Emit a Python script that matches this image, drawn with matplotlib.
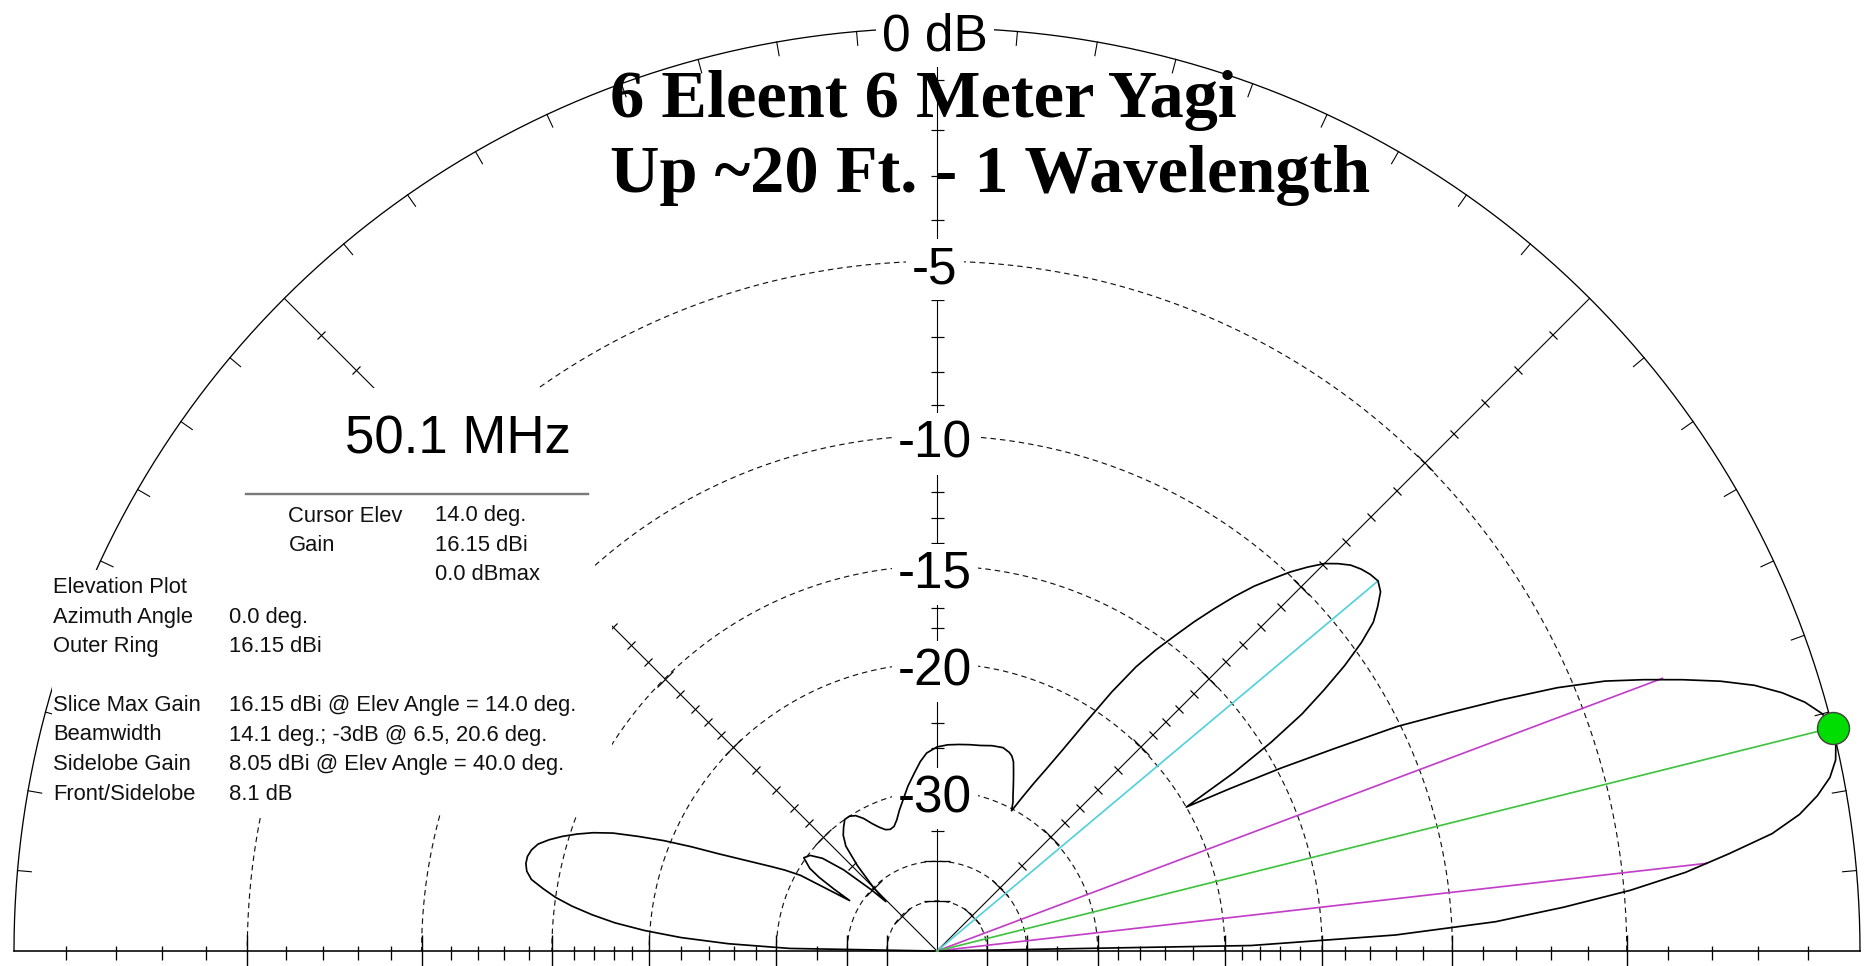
import numpy as np
import matplotlib
matplotlib.use("Agg")
import matplotlib.pyplot as plt
from matplotlib.markers import MarkerStyle
from matplotlib.patches import Rectangle
from matplotlib.lines import Line2D
from matplotlib.transforms import Affine2D, ScaledTranslation

FIG_W, FIG_H, DPI = 1864, 966, 100

# ---------------- data ----------------
# elevation pattern: elevation angle (deg) and gain relative to the maximum (dB)
elev_deg = [0, 1, 2, 3, 4, 5, 6, 7, 8, 9, 10, 11, 12, 13, 14, 15, 16, 17, 18, 19,
            20, 21, 22, 23, 24, 25, 26, 27, 28, 29, 30, 31, 32, 33, 34, 35, 36, 37,
            38, 39, 40, 41, 42, 43, 44, 45, 46, 47, 48, 49, 50, 51, 52, 53, 54, 55,
            56, 57, 58, 59, 60, 61, 62, 63, 64, 65, 66, 67, 68, 69, 70, 71, 72, 75,
            78, 81, 84, 87, 90, 93, 95, 97, 100, 103, 105, 107, 109, 111, 113, 115,
            117, 119, 121, 123, 125, 127, 129, 131, 133, 135, 136, 137, 139, 141,
            143, 145, 147, 148, 149, 150, 151, 152, 153, 154, 155, 156, 157, 158,
            159, 160, 161, 162, 163, 164, 165, 166, 167, 168, 169, 170, 171, 172,
            173, 174, 175, 176, 177, 178, 179, 180]
rel_db = [-99, -18.5, -12.0, -8.6, -6.6, -4.85, -3.5, -2.5, -1.55, -0.95, -0.55,
          -0.25, -0.08, -0.01, 0.0, -0.12, -0.38, -0.75, -1.22, -1.85, -2.6, -3.4,
          -4.25, -5.4, -6.9, -8.5, -10.1, -12.5, -14.8, -17.4, -20.0, -16.8, -14.6,
          -12.9, -11.7, -10.6, -9.7, -9.0, -8.6, -8.25, -8.1, -8.15, -8.25, -8.4,
          -8.65, -8.95, -9.4, -9.9, -10.5, -11.1, -11.85, -12.7, -13.6, -14.6,
          -15.6, -16.8, -18.6, -21.0, -23.3, -25.2, -26.8, -28.5, -30.2, -29.3,
          -28.7, -28.0, -27.3, -26.6, -25.9, -25.5, -25.3, -25.2, -25.1, -25.2,
          -25.4, -25.5, -25.6, -25.7, -25.9, -26.4, -27.1, -28.0, -29.3, -30.8,
          -31.7, -32.7, -33.4, -33.6, -33.4, -32.8, -32.0, -31.0, -30.3, -30.0,
          -30.0, -30.6, -31.3, -32.5, -35.5, -40.0, -44.0, -40.0, -34.5, -31.5,
          -30.2, -29.8, -31.0, -32.5, -35.0, -38.0, -30.5, -28.8, -27.5, -26.2,
          -24.8, -23.2, -21.3, -19.6, -18.2, -16.9, -16.0, -15.3, -14.7, -14.2,
          -13.8, -13.6, -13.5, -13.5, -13.6, -13.85, -14.4, -15.0, -15.8, -16.8,
          -18.0, -19.7, -22.0, -25.5, -31.5, -99]

cursor_elev = 14.0          # deg
max_gain_dbi = 16.15        # dBi (outer ring)
bw_edges = [6.5, 20.6]      # -3 dB points, deg
sidelobe_elev = 40.0        # deg
sidelobe_dbi = 8.05         # dBi

ring_db = [-5, -10, -15, -20, -30, -40, -50]
label_db = [0, -5, -10, -15, -20, -30]
label_txt = ["0 dB", "-5", "-10", "-15", "-20", "-30"]
minor_db = [-1, -2, -3, -4, -6, -7, -8, -9, -11, -12, -13, -14, -16, -17, -18,
            -19, -22, -24, -26, -28, -35]
rim_tick_deg = [5, 10, 15, 20, 25, 30, 35, 40, 50, 55, 60, 65, 70, 75, 80, 85,
                95, 100, 105, 110, 115, 120, 125, 130, 140, 145, 150, 155, 160,
                165, 170, 175]
spoke_deg = [45, 90, 135]

title_lines = ["6 Eleent 6 Meter Yagi", "Up ~20 Ft. - 1 Wavelength"]
freq_text = "50.1 MHz"
cursor_rows = [("Cursor Elev", "14.0 deg."), ("Gain", "16.15 dBi"), ("", "0.0 dBmax")]
info_rows = [("Elevation Plot", ""), ("Azimuth Angle", "0.0 deg."),
             ("Outer Ring", "16.15 dBi"), ("", ""),
             ("Slice Max Gain", "16.15 dBi @ Elev Angle = 14.0 deg."),
             ("Beamwidth", "14.1 deg.; -3dB @ 6.5, 20.6 deg."),
             ("Sidelobe Gain", "8.05 dBi @ Elev Angle = 40.0 deg."),
             ("Front/Sidelobe", "8.1 dB")]


# ARRL log scale: radius shrinks by 0.89 for every 2 dB
def to_radius(db):
    return 0.89 ** (-np.asarray(db, dtype=float) / 2.0)


def from_radius(r):
    r = np.clip(np.asarray(r, dtype=float), 1e-12, None)
    return -2.0 * np.log(r) / np.log(0.89)


def fx(x):
    return x / FIG_W


def fy(y):
    return 1.0 - y / FIG_H


PT = 72.0 / DPI   # points per pixel
SANS = "Liberation Sans"

fig = plt.figure(figsize=(FIG_W / DPI, FIG_H / DPI), dpi=DPI, facecolor="white")

# polar axes: half disc centred at (937, 951) px with radius 923 px
cx, cy, R = 937.0, 951.0, 923.0
side = 2 * R
ax = fig.add_axes([fx(cx - R), (FIG_H - cy - side / 4) / FIG_H, side / FIG_W, side / FIG_H],
                  projection="polar")
ax.set_thetamin(0)
ax.set_thetamax(180)
ax.set_yscale("function", functions=(to_radius, from_radius))
ax.set_ylim(-200, 0)
ax.set_xticks([])
ax.set_yticks([])
ax.axis("off")

K = "black"
LW_AX = 1.1 * PT
theta = np.linspace(0, np.pi, 721)

# dashed dB rings
ring_lw = 1.15 * PT
dash = (5.5 * PT / ring_lw, 4.0 * PT / ring_lw)
for db in ring_db:
    ax.plot(theta, np.full_like(theta, db), color="#111111", lw=ring_lw,
            ls=(0, dash), clip_on=False, zorder=1)

# outer ring and straight axes
ax.plot(theta, np.zeros_like(theta), color=K, lw=1.3 * PT, clip_on=False, zorder=2)
for t in (0.0, np.pi):
    ax.plot([t, t], [-200, 0], color=K, lw=1.6 * PT, clip_on=False, zorder=2)
for d in spoke_deg:
    t = np.radians(d)
    ax.plot([t, t], [-200, 0], color=K, lw=LW_AX, clip_on=False, zorder=2)

# tick marks on the outer ring every 5 degrees
for d in rim_tick_deg:
    t = np.radians(d)
    ax.plot([t, t], [0, -0.26], color=K, lw=LW_AX, clip_on=False, zorder=2)

# dB ticks on the horizon line
for t in (0.0, np.pi):
    tt = np.full(len(minor_db), t)
    ax.plot(tt, minor_db, ls="none", marker=2, ms=5 * PT, mew=1.3 * PT,
            color=K, clip_on=False, zorder=2)
    ax.plot(tt, minor_db, ls="none", marker=3, ms=9 * PT, mew=1.3 * PT,
            color=K, clip_on=False, zorder=2)
    ax.plot(np.full(len(ring_db), t), ring_db, ls="none", marker="|", ms=32 * PT,
            mew=1.4 * PT, color=K, clip_on=False, zorder=2)

# dB ticks on the vertical axis
t90 = np.full(len(minor_db), np.pi / 2)
ax.plot(t90, minor_db, ls="none", marker="_", ms=13 * PT, mew=1.2 * PT, color=K,
        clip_on=False, zorder=2)
ax.plot(np.full(len(ring_db), np.pi / 2), ring_db, ls="none", marker="_",
        ms=26 * PT, mew=1.3 * PT, color=K, clip_on=False, zorder=2)

# cross ticks on the 45 / 135 degree spokes
for d, rot in ((45, 45), (135, -45)):
    mk = MarkerStyle("|", transform=Affine2D().rotate_deg(rot))
    t = np.radians(d)
    ax.plot(np.full(len(minor_db), t), minor_db, ls="none", marker=mk,
            ms=10 * PT, mew=1.2 * PT, color=K, clip_on=False, zorder=2)
    ax.plot(np.full(len(ring_db), t), ring_db, ls="none", marker=mk,
            ms=22 * PT, mew=1.2 * PT, color=K, clip_on=False, zorder=2)

# ring labels on the vertical axis (their white boxes hide rings and axis)
lab_off = ScaledTranslation(-2 / DPI, -22 / DPI, fig.dpi_scale_trans)
for db, txt in zip(label_db, label_txt):
    ax.text(np.pi / 2, db, txt, transform=ax.transData + lab_off, ha="center",
            va="baseline", fontsize=37, family=SANS, color=K,
            bbox=dict(boxstyle="square,pad=0.12", fc="white", ec="none"), zorder=3)

# cursor, beamwidth and sidelobe markers
side_db = sidelobe_dbi - max_gain_dbi
bw_db = -3.0
ax.plot([np.radians(sidelobe_elev)] * 2, [-200, side_db], color="#52d0dc",
        lw=1.7 * PT, clip_on=False, zorder=4)
for b in bw_edges:
    ax.plot([np.radians(b)] * 2, [-200, bw_db], color="#c23ec8", lw=1.7 * PT,
            clip_on=False, zorder=4)
ax.plot([np.radians(cursor_elev)] * 2, [-200, 0.0], color="#3fc23f", lw=1.7 * PT,
        clip_on=False, zorder=4)

# radiation pattern
ax.plot(np.radians(elev_deg), rel_db, color=K, lw=1.7 * PT, clip_on=False, zorder=5)

# cursor dot
ax.plot([np.radians(cursor_elev)], [0.0], ls="none", marker="o", ms=32 * PT,
        mfc="#00dd00", mec="#404040", mew=1.0, clip_on=False, zorder=6)

# white panels behind the information text
for x0, y0, x1, y1 in ((240, 388, 595, 590), (52, 570, 612, 815)):
    fig.add_artist(Rectangle((fx(x0), fy(y1)), (x1 - x0) / FIG_W, (y1 - y0) / FIG_H,
                             transform=fig.transFigure, fc="white", ec="none",
                             zorder=5))

# titles
for txt, yb in zip(title_lines, (117, 192)):
    fig.text(fx(610), fy(yb), txt, fontsize=49.2, family="Liberation Serif",
             weight="bold", va="baseline", ha="left", color=K, zorder=7)

fig.text(fx(345), fy(454), freq_text, fontsize=38, family=SANS, va="baseline",
         ha="left", color=K, zorder=7)
fig.add_artist(Line2D([fx(246), fx(588)], [fy(494.5)] * 2, color="#7a7a7a",
                      lw=2.4 * PT, transform=fig.transFigure, zorder=7))

ROW = 29.5
for i, (a, b) in enumerate(cursor_rows):
    yb = 521.5 + i * ROW
    fig.text(fx(288.5), fy(yb), a, fontsize=15.8, family=SANS, va="baseline",
             color="#111111", zorder=7)
    fig.text(fx(435), fy(yb), b, fontsize=15.8, family=SANS, va="baseline",
             color="#111111", zorder=7)
for i, (a, b) in enumerate(info_rows):
    yb = 593 + i * ROW
    fig.text(fx(53), fy(yb), a, fontsize=15.8, family=SANS, va="baseline",
             color="#111111", zorder=7)
    fig.text(fx(229), fy(yb), b, fontsize=15.8, family=SANS, va="baseline",
             color="#111111", zorder=7)

fig.savefig("out.png", dpi=DPI, facecolor="white")
